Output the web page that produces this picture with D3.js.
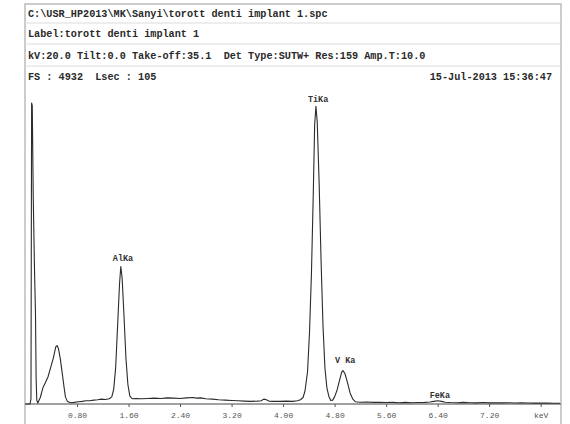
<!DOCTYPE html>
<html lang="en">
<head>
    <meta charset="utf-8" />
    <script src="https://cdnjs.cloudflare.com/ajax/libs/d3/7.8.5/d3.min.js"></script>
    <style type="text/css">
        body {
            margin: 0;
            background: #fff;
        }

        svg text {
            font-family: 'Liberation Mono', 'DejaVu Sans Mono', monospace;
            white-space: pre;
        }
    </style>
</head>
<body>
    <div class="svg-box"></div>
    <script type="text/javascript">
        // header text, one entry per row
        var headerLines = [
            'C:\\USR_HP2013\\MK\\Sanyi\\torott denti implant 1.spc',
            'Label:torott denti implant 1',
            'kV:20.0 Tilt:0.0 Take-off:35.1  Det Type:SUTW+ Res:159 Amp.T:10.0'
        ];
        var infoLeft = 'FS : 4932  Lsec : 105';
        var infoRight = '15-Jul-2013 15:36:47';

        var fullScale = 4932;

        // x axis ticks (keV)
        var tickValues = [0.8, 1.6, 2.4, 3.2, 4.0, 4.8, 5.6, 6.4, 7.2, 8.0];
        var tickLabels = ['0.80', '1.60', '2.40', '3.20', '4.00', '4.80', '5.60', '6.40', '7.20', 'keV'];

        // identified peaks
        var peakNames = ['AlKa', 'TiKa', 'V Ka', 'FeKa'];
        var peakEnergies = [1.48, 4.51, 4.93, 6.40];
        var peakCounts = [2120, 4590, 515, 50];

        // spectrum
        var spectrumKeV = [
            0.00, 0.07, 0.085, 0.095, 0.105, 0.12, 0.14, 0.155, 0.165, 0.175,
            0.19, 0.23, 0.27, 0.31, 0.35, 0.39, 0.43, 0.47, 0.49, 0.51,
            0.54, 0.57, 0.60, 0.62, 0.65, 0.70, 0.76, 0.82, 0.88, 0.94,
            1.00, 1.06, 1.12, 1.18, 1.24, 1.30, 1.34, 1.37, 1.40, 1.43,
            1.46, 1.48, 1.50, 1.53, 1.56, 1.59, 1.62, 1.66, 1.72, 1.80,
            1.90, 2.00, 2.10, 2.20, 2.30, 2.40, 2.50, 2.60, 2.66, 2.72,
            2.80, 2.90, 3.00, 3.10, 3.20, 3.30, 3.40, 3.50, 3.60, 3.66,
            3.70, 3.74, 3.78, 3.85, 3.95, 4.05, 4.15, 4.22, 4.27, 4.31,
            4.34, 4.38, 4.41, 4.44, 4.47, 4.49, 4.51, 4.53, 4.56, 4.59,
            4.62, 4.65, 4.68, 4.71, 4.74, 4.77, 4.80, 4.84, 4.88, 4.91,
            4.93, 4.96, 5.00, 5.04, 5.08, 5.12, 5.20, 5.30, 5.40, 5.50,
            5.60, 5.70, 5.80, 5.90, 6.00, 6.10, 6.20, 6.28, 6.34, 6.40,
            6.46, 6.52, 6.60, 6.70, 6.80, 6.90, 7.00, 7.10, 7.20, 7.30,
            7.40, 7.50, 7.60, 7.70, 7.80, 7.90, 8.00, 8.10, 8.20, 8.30
        ];
        var spectrumCounts = [
            0, 0, 80, 4640, 4600, 3200, 2060, 1400, 400, 60,
            15, 100, 250, 330, 420, 560, 700, 880, 900, 860,
            700, 480, 250, 110, 40, 20, 25, 35, 40, 50,
            50, 60, 65, 75, 70, 80, 110, 230, 560, 1200,
            1850, 2120, 1950, 1350, 700, 300, 120, 80, 85, 80,
            85, 90, 85, 95, 90, 85, 95, 100, 90, 95,
            80, 75, 65, 60, 55, 50, 45, 40, 45, 50,
            75, 65, 45, 40, 40, 45, 40, 50, 65, 100,
            200, 500, 1100, 2000, 3300, 4300, 4590, 4350, 3400, 2200,
            1200, 550, 250, 120, 55, 60, 110, 220, 380, 490,
            515, 470, 330, 170, 80, 35, 28, 30, 25, 28,
            22, 25, 20, 25, 20, 22, 25, 30, 40, 50,
            40, 28, 22, 20, 25, 20, 18, 22, 18, 20,
            18, 20, 15, 18, 15, 14, 16, 14, 12, 12
        ];

        var width = 570;
        var height = 424;
        var frame = { left: 25, top: 4, right: 561 };
        var plot = { left: 25.5, right: 560, top: 84, bottom: 404 };
        var labelLift = [5, 4, 8, 3];

        var svg = d3.select('div.svg-box')
            .append('svg')
            .attr('width', width)
            .attr('height', height);

        // outer frame
        svg.append('rect')
            .attr('x', frame.left)
            .attr('y', frame.top)
            .attr('width', frame.right - frame.left)
            .attr('height', height + 10)
            .attr('fill', '#fff')
            .attr('stroke', '#bcbcbc')
            .attr('stroke-width', 1.5);

        // header rows and their separators
        var rowY = [13, 33, 55];
        var sepY = [23, 44, 66];
        svg.selectAll('.sep')
            .data(sepY)
            .enter()
            .append('line')
            .attr('class', 'sep')
            .attr('x1', frame.left)
            .attr('x2', frame.right)
            .attr('y1', function (d) { return d })
            .attr('y2', function (d) { return d })
            .attr('stroke', '#dcdcdc')
            .attr('stroke-width', 1);

        svg.selectAll('.hdr')
            .data(headerLines)
            .enter()
            .append('text')
            .attr('class', 'hdr')
            .attr('x', 28)
            .attr('y', function (d, i) { return rowY[i] })
            .attr('dy', '0.35em')
            .attr('font-size', '10.2px')
            .attr('font-weight', 'bold')
            .attr('fill', '#2a2a2a')
            .text(function (d) { return d });

        svg.append('text')
            .attr('x', 28)
            .attr('y', 76)
            .attr('dy', '0.35em')
            .attr('font-size', '10.2px')
            .attr('font-weight', 'bold')
            .attr('fill', '#2a2a2a')
            .text(infoLeft);

        svg.append('text')
            .attr('x', 552)
            .attr('y', 76)
            .attr('dy', '0.35em')
            .attr('text-anchor', 'end')
            .attr('font-size', '10.2px')
            .attr('font-weight', 'bold')
            .attr('fill', '#2a2a2a')
            .text(infoRight);

        // scales
        var x = d3.scaleLinear()
            .domain([0, 8.3])
            .range([plot.left, plot.right]);

        var y = d3.scaleLinear()
            .domain([0, fullScale])
            .range([plot.bottom, plot.top]);

        // x axis
        var xAxis = d3.axisBottom(x)
            .tickValues(tickValues)
            .tickSize(3)
            .tickFormat(function (d, i) { return tickLabels[i] });

        var axisG = svg.append('g')
            .attr('class', 'x-axis')
            .attr('transform', 'translate(0,' + plot.bottom + ')')
            .call(xAxis);
        axisG.select('.domain')
            .attr('d', 'M' + frame.left + ',0H' + frame.right)
            .attr('stroke', '#444');
        axisG.selectAll('.tick line').attr('stroke', '#555');
        axisG.selectAll('.tick text')
            .attr('y', 8)
            .attr('font-family', "'Liberation Mono', monospace")
            .attr('font-size', '8px')
            .attr('fill', '#555');

        // spectrum trace
        var pts = spectrumKeV.map(function (k, i) { return [k, spectrumCounts[i]] });
        var line = d3.line()
            .x(function (d) { return x(d[0]) })
            .y(function (d) { return y(d[1]) });

        svg.append('path')
            .datum(pts)
            .attr('d', line)
            .attr('fill', 'none')
            .attr('stroke', '#2b2b2b')
            .attr('stroke-width', 1.1)
            .attr('stroke-linejoin', 'round');

        // peak labels
        svg.selectAll('.pk')
            .data(peakNames)
            .enter()
            .append('text')
            .attr('class', 'pk')
            .attr('x', function (d, i) { return x(peakEnergies[i]) - 8 })
            .attr('y', function (d, i) { return y(peakCounts[i]) - labelLift[i] })
            .attr('font-size', '8.5px')
            .attr('font-weight', 'bold')
            .attr('fill', '#333')
            .text(function (d) { return d });
    </script>
</body>
</html>
